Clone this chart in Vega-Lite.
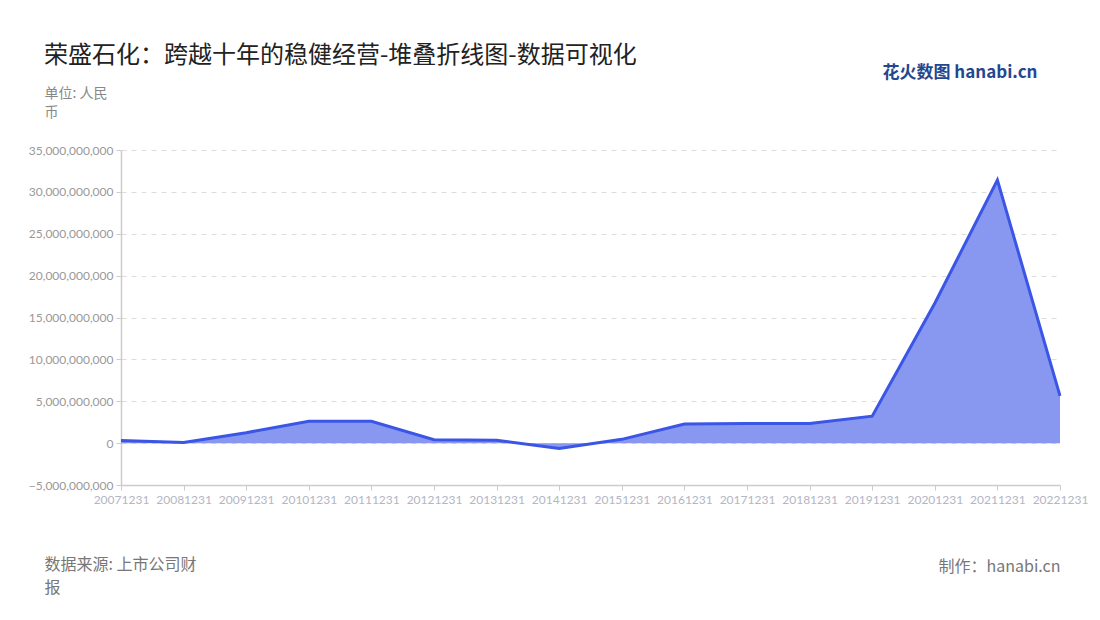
{
  "$schema": "https://vega.github.io/schema/vega-lite/v6.json",
  "width": 939,
  "height": 335,
  "autosize": {"type": "none"},
  "padding": {"left": 121, "top": 150, "right": 40, "bottom": 135},
  "background": "white",
  "config": {
    "font": "Noto Sans CJK SC",
    "view": {"stroke": null}
  },
  "title": {
    "text": "荣盛石化：跨越十年的稳健经营-堆叠折线图-数据可视化",
    "anchor": "start",
    "frame": "group",
    "dx": -77,
    "dy": 15,
    "offset": 10,
    "fontSize": 24,
    "fontWeight": "normal",
    "color": "#222222",
    "font": "Noto Sans CJK SC"
  },
  "data": {
    "values": [
      {"date": "20071231", "value": 320000000},
      {"date": "20081231", "value": 80000000},
      {"date": "20091231", "value": 1250000000},
      {"date": "20101231", "value": 2600000000},
      {"date": "20111231", "value": 2600000000},
      {"date": "20121231", "value": 400000000},
      {"date": "20131231", "value": 330000000},
      {"date": "20141231", "value": -630000000},
      {"date": "20151231", "value": 450000000},
      {"date": "20161231", "value": 2270000000},
      {"date": "20171231", "value": 2350000000},
      {"date": "20181231", "value": 2350000000},
      {"date": "20191231", "value": 3220000000},
      {"date": "20201231", "value": 16700000000},
      {"date": "20211231", "value": 31400000000},
      {"date": "20221231", "value": 5650000000}
    ]
  },
  "resolve": {"axis": {"x": "independent", "y": "independent"}},
  "layer": [
    {
      "mark": {
        "type": "area",
        "color": "#8898F0",
        "opacity": 1,
        "line": {"color": "#3B55E6", "strokeWidth": 3}
      },
      "encoding": {
        "x": {
          "field": "date",
          "type": "ordinal",
          "scale": {"type": "point", "padding": 0},
          "axis": {
            "labelAngle": 0,
            "labelColor": "#B3B6C4",
            "labelFontSize": 12,
            "labelFont": "Lato",
            "labelOverlap": false,
            "labelPadding": 4,
            "tickColor": "#CCCCCC",
            "tickSize": 5,
            "domainColor": "#CCCCCC",
            "domainWidth": 1.5,
            "grid": false,
            "title": ["数据来源: 上市公司财", "报"],
            "titleX": -77,
            "titleY": 71,
            "titleAlign": "left",
            "titleAnchor": null,
            "titleBaseline": "top",
            "titleFontSize": 16,
            "titleFontWeight": "normal",
            "titleColor": "#777777",
            "titleLineHeight": 23
          }
        },
        "y": {
          "field": "value",
          "type": "quantitative",
          "scale": {"domain": [-5000000000, 35000000000], "nice": false, "zero": true},
          "axis": {
            "values": [-5000000000, 0, 5000000000, 10000000000, 15000000000, 20000000000, 25000000000, 30000000000, 35000000000],
            "format": ",d",
            "labelColor": "#999999",
            "labelFontSize": 12,
            "labelFont": "Lato",
            "labelPadding": 3,
            "tickColor": "#CCCCCC",
            "tickSize": 5,
            "domainColor": "#CCCCCC",
            "domainWidth": 1.5,
            "gridColor": "#DDDDDD",
            "gridDash": [5, 5],
            "title": ["单位: 人民", "币"],
            "titleAngle": 0,
            "titleX": -77,
            "titleY": -64,
            "titleAlign": "left",
            "titleAnchor": null,
            "titleBaseline": "top",
            "titleFontSize": 14,
            "titleFontWeight": "normal",
            "titleColor": "#888888",
            "titleLineHeight": 19
          }
        }
      }
    },
    {
      "mark": {"type": "line", "opacity": 0},
      "encoding": {
        "x": {
          "field": "date",
          "type": "ordinal",
          "axis": {
            "orient": "top",
            "labels": false,
            "ticks": false,
            "domain": false,
            "grid": false,
            "title": "花火数图 hanabi.cn",
            "titleX": 916,
            "titleY": -78,
            "titleAlign": "right",
            "titleAnchor": null,
            "titleBaseline": "middle",
            "titleFontSize": 17,
            "titleFontWeight": "bold",
            "titleColor": "#24468F"
          }
        },
        "y": {
          "field": "value",
          "type": "quantitative",
          "axis": {
            "orient": "right",
            "labels": false,
            "ticks": false,
            "domain": false,
            "grid": false,
            "title": "制作：hanabi.cn",
            "titleAngle": 0,
            "titleX": 0,
            "titleY": 408,
            "titleAlign": "right",
            "titleAnchor": null,
            "titleBaseline": "top",
            "titleFontSize": 16,
            "titleFontWeight": "normal",
            "titleColor": "#777777"
          }
        }
      }
    }
  ]
}
